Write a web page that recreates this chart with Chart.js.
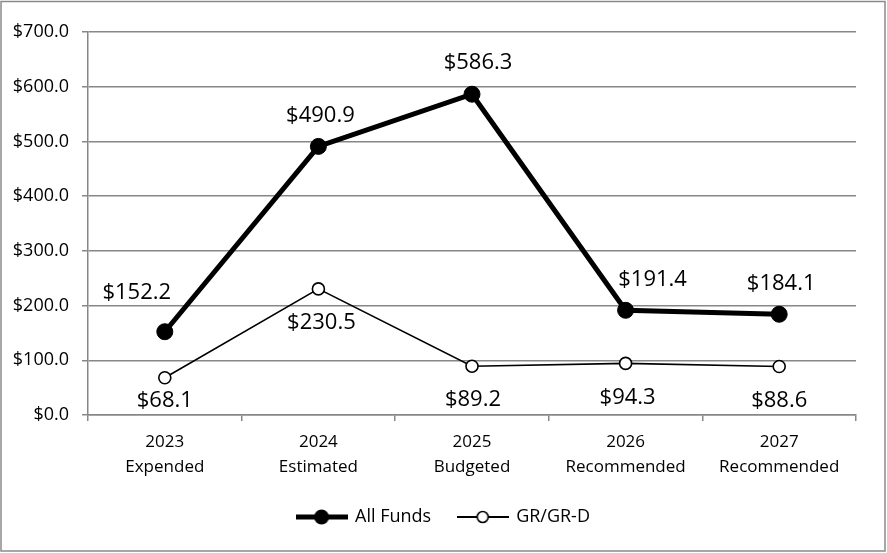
<!DOCTYPE html>
<html>
<head>
<meta charset="utf-8">
<script src="https://cdn.jsdelivr.net/npm/chart.js@4.4.1/dist/chart.umd.min.js"></script>
<style>
  html, body { margin: 0; padding: 0; background: #ffffff; }
  #wrap { position: absolute; left: 0; top: 0; width: 887px; height: 553px; }
</style>
</head>
<body>
<div id="wrap"><canvas id="c" width="887" height="553"></canvas></div>
<script>
const categories = [["2023", "Expended"], ["2024", "Estimated"], ["2025", "Budgeted"], ["2026", "Recommended"], ["2027", "Recommended"]];
const allFunds = [152.2, 490.9, 586.3, 191.4, 184.1];
const grGrD = [68.1, 230.5, 89.2, 94.3, 88.6];
const yTicks = [0, 100, 200, 300, 400, 500, 600, 700];

const FONT = "'Open Sans', 'Noto Sans', sans-serif";
const GRID = '#878787';

function legendIcon(filled) {
  const cv = document.createElement('canvas');
  cv.width = 52; cv.height = 18;
  const g = cv.getContext('2d');
  g.strokeStyle = '#000';
  g.lineWidth = filled ? 5 : 1.8;
  g.beginPath(); g.moveTo(0, 9); g.lineTo(52, 9); g.stroke();
  g.beginPath();
  if (filled) {
    g.fillStyle = '#000';
    g.arc(26, 9, 7.5, 0, Math.PI * 2); g.fill();
  } else {
    g.fillStyle = '#fff';
    g.lineWidth = 1.6;
    g.arc(26, 9, 5.5, 0, Math.PI * 2); g.fill(); g.stroke();
  }
  return cv;
}

const borderPlugin = {
  id: 'outerBorder',
  afterLayout(chart) {
    // centre the legend on the whole frame, as in the reference
    const lg = chart.legend;
    if (lg) { lg.left = 31; lg.right = chart.width - 31; }
  },
  afterDraw(chart) {
    const ctx = chart.ctx;
    ctx.save();
    ctx.strokeStyle = '#8a8a8a';
    ctx.lineWidth = 1.5;
    ctx.strokeRect(1, 1.5, 884, 549.5);
    ctx.restore();
  }
};

const valueLabels = {
  id: 'valueLabels',
  afterDatasetsDraw(chart) {
    const ctx = chart.ctx;
    ctx.save();
    ctx.font = "22px " + FONT;
    ctx.fillStyle = '#000';
    ctx.textAlign = 'center';
    ctx.textBaseline = 'middle';
    chart.data.datasets.forEach((ds, i) => {
      const meta = chart.getDatasetMeta(i);
      meta.data.forEach((pt, j) => {
        const off = ds.labelOffsets[j];
        ctx.fillText('$' + ds.data[j].toFixed(1), pt.x + off[0], pt.y + off[1]);
      });
    });
    ctx.restore();
  }
};

new Chart(document.getElementById('c'), {
  type: 'line',
  data: {
    labels: categories,
    datasets: [
      {
        label: 'All Funds',
        data: allFunds,
        borderColor: '#000',
        backgroundColor: '#000',
        borderWidth: 5,
        pointRadius: 8,
        pointHoverRadius: 8,
        pointBackgroundColor: '#000',
        pointBorderColor: '#000',
        pointBorderWidth: 1,
        pointStyle: 'circle',
        tension: 0,
        labelOffsets: [[-28, -39], [2, -31], [6, -31], [27, -31], [2, -31]]
      },
      {
        label: 'GR/GR-D',
        data: grGrD,
        borderColor: '#000',
        backgroundColor: '#fff',
        borderWidth: 1.6,
        pointRadius: 6,
        pointHoverRadius: 6,
        pointBackgroundColor: '#fff',
        pointBorderColor: '#000',
        pointBorderWidth: 1.6,
        tension: 0,
        labelOffsets: [[0, 23], [3, 34], [1, 34], [2, 34], [0, 34]]
      }
    ]
  },
  options: {
    responsive: false,
    animation: false,
    devicePixelRatio: 1,
    layout: { padding: { left: 0, right: 31, top: 32, bottom: 17 } },
    plugins: {
      tooltip: { enabled: false },
      legend: {
        display: true,
        position: 'bottom',
        labels: {
          usePointStyle: true,
          pointStyleWidth: 49,
          padding: 27,
          color: '#000',
          font: { family: FONT, size: 18 },
          generateLabels(chart) {
            return chart.data.datasets.map((ds, i) => ({
              text: ds.label,
              pointStyle: legendIcon(i === 0),
              fillStyle: '#000',
              strokeStyle: '#000',
              lineWidth: 0,
              hidden: false,
              datasetIndex: i,
              fontColor: '#000'
            }));
          }
        }
      }
    },
    scales: {
      x: {
        type: 'category',
        offset: true,
        afterFit(scale) { scale.height = 66; },
        grid: {
          offset: true,
          drawOnChartArea: false,
          drawTicks: true,
          tickLength: 6,
          color: GRID,
          lineWidth: 1.5
        },
        border: { display: true, color: GRID, width: 1.5 },
        ticks: {
          color: '#000',
          padding: 8,
          maxRotation: 0,
          autoSkip: false,
          font: { family: FONT, size: 17, lineHeight: 1.5 }
        }
      },
      y: {
        min: 0,
        max: 700,
        afterFit(scale) { scale.width = 88; },
        afterBuildTicks(scale) { scale.ticks = yTicks.map(v => ({ value: v })); },
        grid: {
          drawTicks: true,
          tickLength: 6,
          color: GRID,
          lineWidth: 1.5
        },
        border: { display: true, color: GRID, width: 1.5 },
        ticks: {
          color: '#000',
          padding: 13,
          font: { family: FONT, size: 18 },
          callback: (v) => '$' + Number(v).toFixed(1)
        }
      }
    }
  },
  plugins: [borderPlugin, valueLabels]
});
</script>
</body>
</html>
